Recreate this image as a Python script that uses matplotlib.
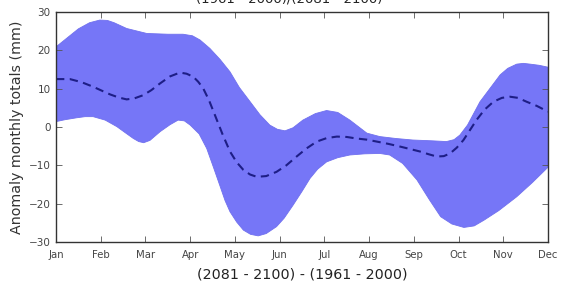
import matplotlib.pyplot as plt
import numpy as np

months = ['Jan', 'Feb', 'Mar', 'Apr', 'May', 'Jun', 'Jul', 'Aug', 'Sep', 'Oct', 'Nov', 'Dec']

# values, x in months from Jan (0) to Dec (11)
upper_x = [0, 0.5, 0.75, 0.98, 1.15, 1.3, 1.58, 2.03, 2.5, 2.84, 3.05, 3.22, 3.44, 3.67, 3.89,
           4.1, 4.34, 4.56, 4.78, 4.95, 5.12, 5.3, 5.52, 5.8, 6.05, 6.3, 6.57, 6.95, 7.24, 7.6,
           7.98, 8.4, 8.73, 8.9, 9.03, 9.2, 9.48, 9.93, 10.1, 10.3, 10.45, 10.6, 10.8, 11]
upper = [20.9, 25.6, 27.2, 27.9, 27.8, 27.2, 25.7, 24.4, 24.2, 24.2, 23.8, 22.7, 20.5, 17.6, 14.4,
         10.3, 6.6, 3.2, 0.5, -0.6, -1.0, -0.2, 1.8, 3.5, 4.3, 3.8, 1.8, -1.6, -2.5, -3.0,
         -3.4, -3.6, -3.8, -3.3, -2.1, 0.5, 6.6, 13.6, 15.3, 16.4, 16.6, 16.4, 16.1, 15.6]

lower_x = [0, 0.2, 0.46, 0.65, 0.83, 1.1, 1.36, 1.55, 1.73, 1.85, 1.96, 2.1, 2.33, 2.55, 2.73,
           2.87, 3.0, 3.2, 3.37, 3.52, 3.67, 3.78, 3.89, 4.04, 4.19, 4.35, 4.52, 4.7, 4.93, 5.1,
           5.3, 5.5, 5.68, 5.85, 6.05, 6.3, 6.57, 6.9, 7.24, 7.46, 7.75, 8.07, 8.35, 8.6, 8.85,
           9.12, 9.35, 9.57, 9.9, 10.3, 10.65, 11]
lower = [1.4, 1.9, 2.4, 2.7, 2.7, 1.8, 0.1, -1.5, -3.0, -3.8, -4.1, -3.5, -1.2, 0.6, 1.8,
         1.6, 0.5, -1.8, -5.6, -10.5, -15.5, -19.2, -22.1, -24.8, -26.9, -28.0, -28.4, -27.8, -26.0, -23.8,
         -20.4, -16.8, -13.4, -11.0, -9.1, -8.0, -7.3, -7.0, -6.9, -7.3, -9.5, -13.8, -19.0, -23.4, -25.3,
         -26.2, -25.8, -24.3, -21.8, -18.2, -14.5, -10.5]

mean_x = [0, 0.31, 0.57, 0.83, 1.0, 1.21, 1.4, 1.58, 1.76, 1.95, 2.13, 2.33, 2.55, 2.77, 2.92,
          3.07, 3.18, 3.29, 3.42, 3.55, 3.72, 3.89, 4.04, 4.19, 4.34, 4.49, 4.7, 4.93, 5.15, 5.38,
          5.6, 5.83, 6.05, 6.28, 6.5, 6.72, 6.95, 7.17, 7.43, 7.69, 7.9, 8.14, 8.33, 8.51, 8.67,
          8.81, 8.96, 9.11, 9.25, 9.4, 9.58, 9.78, 9.97, 10.15, 10.33, 10.52, 10.75, 11]
mean = [12.5, 12.5, 11.7, 10.5, 9.6, 8.5, 7.7, 7.2, 7.5, 8.3, 9.6, 11.4, 13.2, 14.2, 13.9,
        13.1, 11.8, 10.1, 7.0, 3.2, -1.8, -6.4, -9.2, -11.2, -12.4, -13.0, -12.8, -11.7, -10.0, -7.7,
        -5.6, -3.8, -2.9, -2.5, -2.6, -3.0, -3.3, -3.8, -4.4, -5.1, -5.7, -6.4, -7.1, -7.7, -7.6,
        -6.9, -5.4, -3.4, -0.9, 1.8, 4.5, 6.6, 7.6, 7.9, 7.6, 6.6, 5.5, 4.0]

fig = plt.figure(figsize=(5.68, 2.89), dpi=100)
ax = fig.add_axes([56 / 568, 1 - 242 / 289, 492 / 568, 230 / 289])

band_x = np.concatenate([upper_x, lower_x[::-1]])
band_y = np.concatenate([upper, lower[::-1]])
ax.fill(band_x, band_y, color='#7676f7', linewidth=0.6, edgecolor='#7070ee', joinstyle='round')
ax.plot(mean_x, mean, color='#1e1e86', linestyle='--', linewidth=1.5, dashes=(4, 2.6),
        solid_joinstyle='round', dash_joinstyle='round')

ax.set_xlim(0, 11)
ax.set_ylim(-30, 30)
ax.set_xticks(range(len(months)))
ax.set_xticklabels(months, fontsize=7.3, color='#444444')
ax.set_yticks([-30, -20, -10, 0, 10, 20, 30])
ax.tick_params(axis='y', labelsize=7.5, colors='#444444', pad=4)
ax.tick_params(axis='x', pad=6)
ax.tick_params(direction='in', top=True, right=True, length=4, width=0.6, color='#555555')
for s in ax.spines.values():
    s.set_color('#333333')
    s.set_linewidth(1.0)

ax.set_xlabel('(2081 - 2100) - (1961 - 2000)', fontsize=10.3, color='#222222', labelpad=5)
ax.set_ylabel('Anomaly monthly totals (mm)', fontsize=10.3, color='#333333', labelpad=3)

# title sits mostly above the top of the picture, as in the reference
fig.text(289 / 568, 1 - 6 / 289, '(1961 - 2000)/(2081 - 2100)', fontsize=9.5,
         color='#222222', ha='center', va='bottom')

fig.savefig('out.png', dpi=100)
